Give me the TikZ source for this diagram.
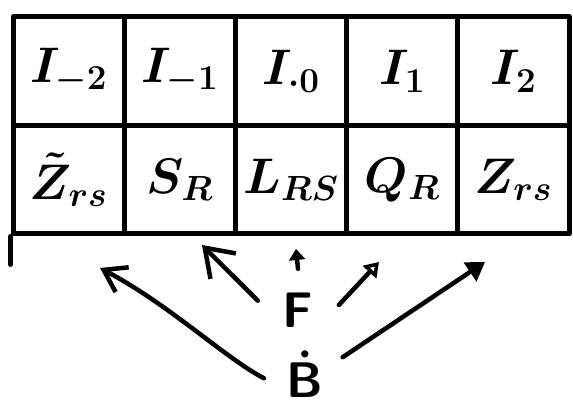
\RequirePackage{fix-cm}
\documentclass[tikz,border=0pt]{standalone}
\usepackage{amsmath}
\usepackage{tikz}
\usetikzlibrary{arrows.meta, positioning}

\begin{document}
\begin{tikzpicture}[x=1pt, y=1pt, node distance=111.2pt, line cap=round, line join=round,
    font=\fontsize{50}{60}\selectfont\boldmath,
    cell/.style={draw, line width=5pt, minimum width=111.2pt, minimum height=108.5pt, inner sep=0pt},
    hub/.style={circle, minimum size=82pt, inner sep=0pt},
    pen/.style={line width=4.5pt}]
      \useasboundingbox (0,0) rectangle (573,-406);

      % Row of I's
      \node[cell] (Im2) at (68.6,-71.25) {$I_{-2}$};
      \node[cell] (Im1) [right of=Im2] {$I_{-1}$};
      \node[cell] (I0) [right of=Im1] {$I_{\cdot 0}$};
      \node[cell] (Ip1) [right of=I0] {$I_{1}$};
      \node[cell] (Ip2) [right of=Ip1] {$I_{2}$};

      % Row below
      \node[cell] (Zt) [below of=Im2, node distance=108.5pt] {$\tilde{Z}_{rs}$};
      \node[cell] (SR) [right of=Zt] {$S_{R}$};
      \node[cell] (LRS) [right of=SR] {$L_{RS}$};
      \node[cell] (QR) [right of=LRS] {$Q_{R}$};
      \node[cell] (ZRS) [right of=QR] {$Z_{rs}$};
      \draw[line width=5pt] (Zt.south west) -- ++(0,-28);

      % F and B
      \node[hub] (F) at (298,-310) {$\mathsf{F}$};
      \node[hub] (B) at (305,-374) {$\dot{\mathsf{B}}$};

      \coordinate (toZt) at (100,-268);
      \coordinate (toSR) at (202,-245);
      \coordinate (toLRS) at (296,-249);
      \coordinate (toQR) at (379,-262);
      \coordinate (toZRS) at (485,-262);

      % Arrows from F
      \draw[pen, -{Straight Barb[length=26pt,width=36pt]}] (F.167) -- (toSR);
      \draw[pen, -{Triangle[length=11pt,width=16pt]}] (F.north) -- (toLRS);
      \draw[pen, -{Triangle[open,length=14pt,width=18pt]}] (F.7) -- (toQR);

      % Arrows from B
      \draw[pen, -{Straight Barb[length=21pt,width=28pt]}] (B.186) .. controls (225,-358) and (170,-305) .. (toZt);
      \draw[pen, -{Triangle[length=18pt,width=22pt]}] (B.24) -- (toZRS);
\end{tikzpicture}
\end{document}
